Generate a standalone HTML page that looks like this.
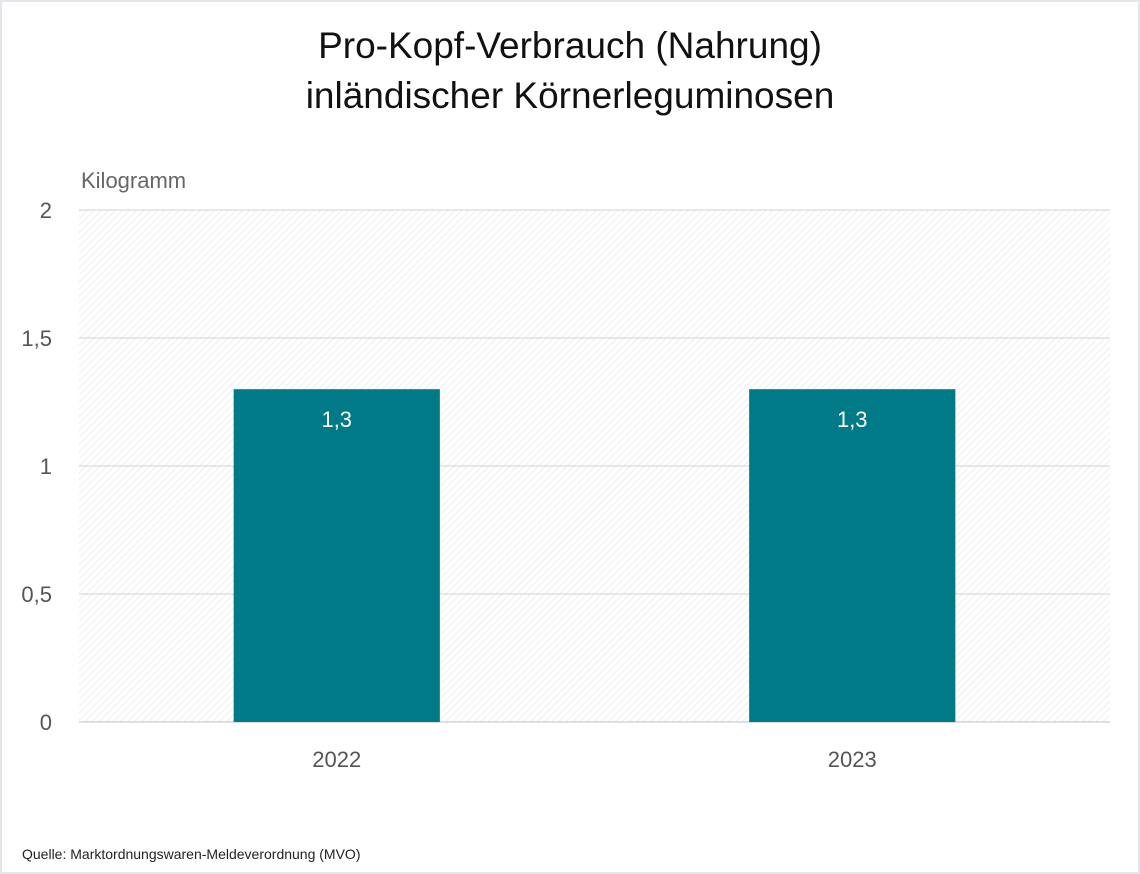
<!DOCTYPE html>
<html><head><meta charset="utf-8"><style>
html,body{margin:0;padding:0;background:#fff;}
body{width:1140px;height:874px;position:relative;overflow:hidden;font-family:"Liberation Sans",sans-serif;}
#frame{position:absolute;left:0;top:0;width:1136px;height:870px;border:2px solid #e3e6ea;}
</style></head><body>
<div id="frame"></div>
<svg width="1140" height="874" style="position:absolute;left:0;top:0">
<defs>
<pattern id="hatch" width="5" height="5" patternUnits="userSpaceOnUse" patternTransform="rotate(45)">
<line x1="0" y1="0" x2="0" y2="5" stroke="#e4e6e9" stroke-width="1.4"/>
</pattern>
</defs>
<text x="570" y="58" text-anchor="middle" font-size="37" fill="#111">Pro-Kopf-Verbrauch (Nahrung)</text>
<text x="570" y="108" text-anchor="middle" font-size="37" fill="#111">inländischer Körnerleguminosen</text>
<text x="81" y="188" font-size="22" fill="#666">Kilogramm</text>
<rect x="79" y="210" width="1031" height="512" fill="url(#hatch)"/>
<g id="grid"></g><g id="bars"></g><g id="labels"></g>
<text x="22" y="859" font-size="14" fill="#222">Quelle: Marktordnungswaren-Meldeverordnung (MVO)</text>
</svg>
<script>
const categories=["2022","2023"];
const values=[1.3,1.3];
const valueLabels=["1,3","1,3"];
const yTicks=[0,0.5,1,1.5,2];
const yTickLabels=["0","0,5","1","1,5","2"];
const NS="http://www.w3.org/2000/svg";
const x0=79,x1=1110,yTop=210,yBot=722,yMax=2;
const y=v=>yBot-(v/yMax)*(yBot-yTop);
const band=(x1-x0)/categories.length;
const xc=i=>x0+band*(i+0.5);
const bw=band*0.4;
function mk(tag,attrs,parent){const e=document.createElementNS(NS,tag);for(const k in attrs)e.setAttribute(k,attrs[k]);document.getElementById(parent).appendChild(e);return e;}
yTicks.forEach((t,i)=>{
 const l=mk('line',{x1:x0,x2:x1,y1:y(t),y2:y(t),stroke:t===0?'#cfd3d8':'#dde0e4','stroke-width':1.5},'grid');
 
 
 const tx=mk('text',{x:52,y:y(t)+8,'text-anchor':'end','font-size':22,fill:'#555'},'grid');
 tx.textContent=yTickLabels[i];
 
 
});
categories.forEach((c,i)=>{
 const r=mk('rect',{x:xc(i)-bw/2,y:y(values[i]),width:bw,height:yBot-y(values[i]),fill:'#007a87'},'bars');
 
 
 const v=mk('text',{x:xc(i),y:y(values[i])+38,'text-anchor':'middle','font-size':22,fill:'#fff'},'labels');
 v.textContent=valueLabels[i];
 
 
 const tx=mk('text',{x:xc(i),y:767,'text-anchor':'middle','font-size':22,fill:'#555'},'labels');
 tx.textContent=c;
 
 
});
</script>
</body></html>
